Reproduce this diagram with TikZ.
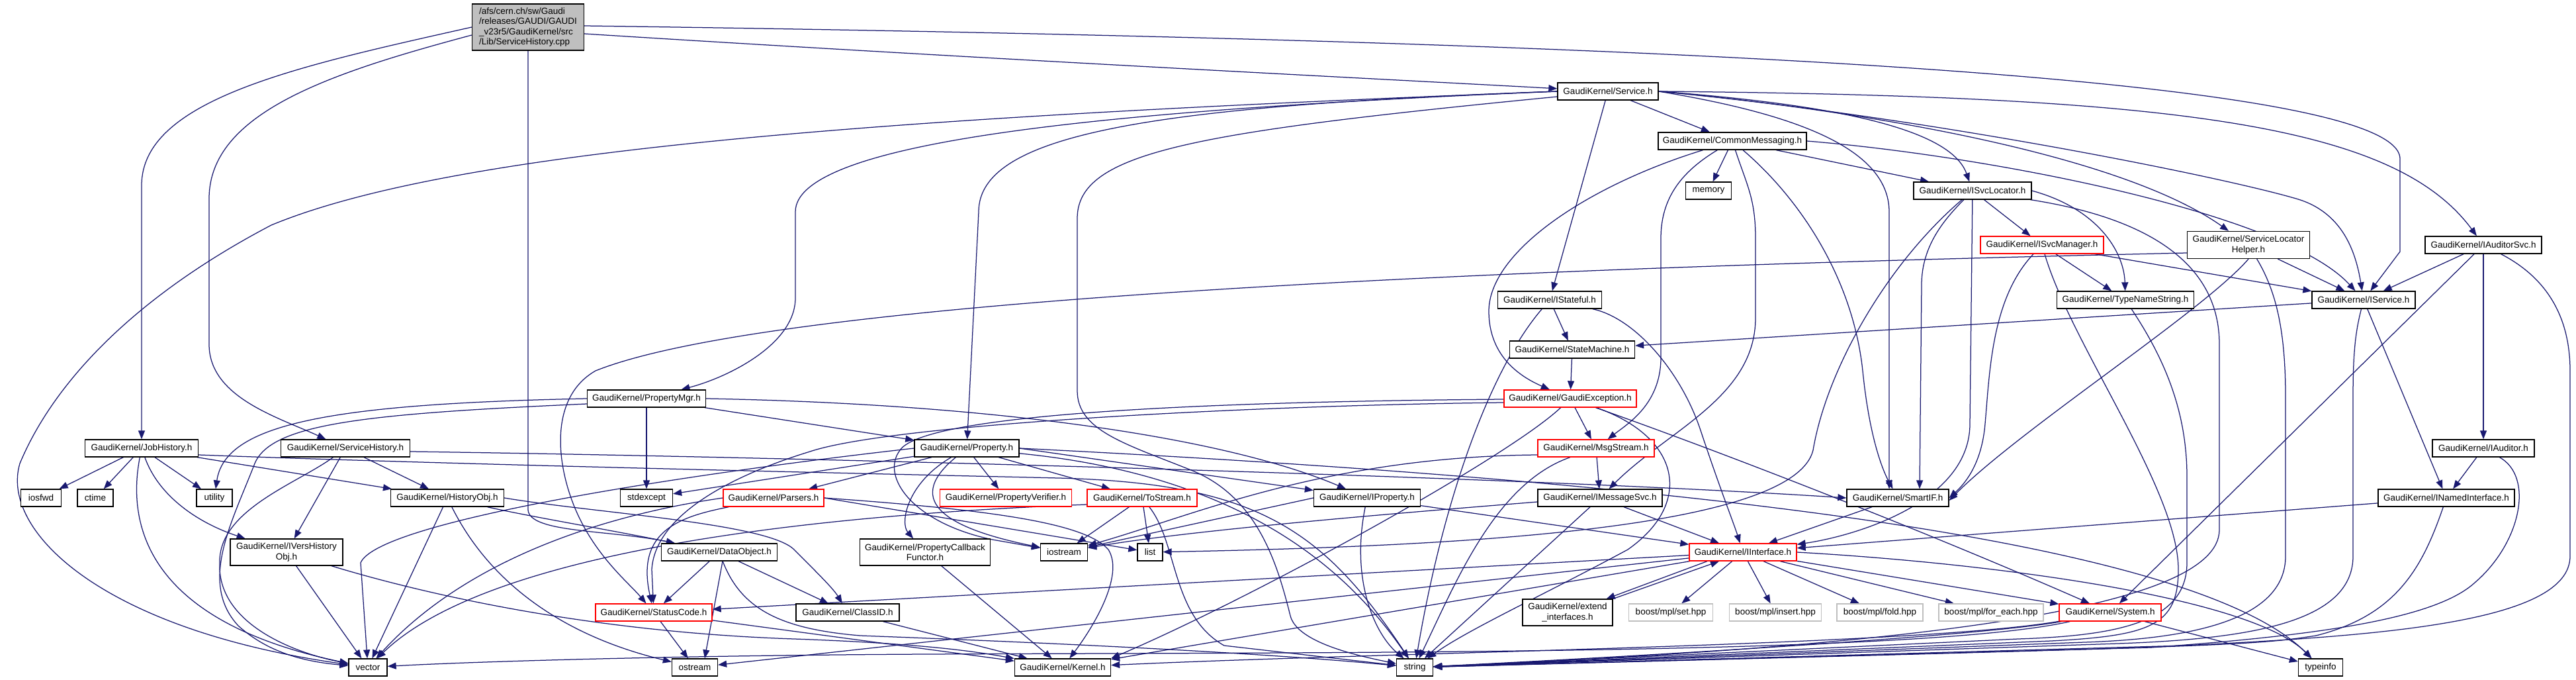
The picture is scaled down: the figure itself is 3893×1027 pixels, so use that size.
\documentclass[tikz,border=0pt]{standalone}
\usepackage{fontspec}
\setmainfont{Liberation Sans}
\usetikzlibrary{arrows.meta,backgrounds}
\definecolor{dxblue}{HTML}{191970}
\definecolor{dxgray}{HTML}{BFBFBF}
\begin{document}
\begin{tikzpicture}[x=1pt,y=-1pt,
  nd/.style={draw=black, line width=1.3pt, fill=white, minimum height=26, inner sep=1pt, font=\fontsize{13.5}{15.5}\selectfont, align=center},
  rnd/.style={nd, draw=red},
  gnd/.style={nd, draw=dxgray},
  conn/.style={draw=dxblue, line width=1.25pt, -{Triangle[length=13pt,width=10pt]}}]
\useasboundingbox (0,0) rectangle (3893,1027);
\begin{pgfonlayer}{background}
\fill[white] (0,0) rectangle (3893,1027);
\end{pgfonlayer}
% nodes
\node[nd, fill=dxgray, minimum width=169, minimum height=70, align=left] (root) at (798,41) {/afs/cern.ch/sw/Gaudi\\/releases/GAUDI/GAUDI\\\_v23r5/GaudiKernel/src\\/Lib/ServiceHistory.cpp};
\node[nd, minimum width=152] (svc) at (2430,138) {GaudiKernel/Service.h};
\node[nd, minimum width=224] (cm) at (2618,213) {GaudiKernel/CommonMessaging.h};
\node[nd, minimum width=69] (mem) at (2582,288) {memory};
\node[nd, minimum width=178] (isl) at (2981,288) {GaudiKernel/ISvcLocator.h};
\node[rnd, minimum width=186] (ism) at (3086,370) {GaudiKernel/ISvcManager.h};
\node[nd, minimum width=185, minimum height=41] (slh) at (3398,370) {GaudiKernel/ServiceLocator\\Helper.h};
\node[nd, minimum width=176] (ias) at (3753,370) {GaudiKernel/IAuditorSvc.h};
\node[nd, minimum width=207] (tns) at (3212,453) {GaudiKernel/TypeNameString.h};
\node[nd, minimum width=156] (isv) at (3572,453) {GaudiKernel/IService.h};
\node[nd, minimum width=154] (iaud) at (3753,677) {GaudiKernel/IAuditor.h};
\node[nd, minimum width=157] (ist) at (2342,453) {GaudiKernel/IStateful.h};
\node[nd, minimum width=189] (sm) at (2376,528) {GaudiKernel/StateMachine.h};
\node[rnd, minimum width=200] (gex) at (2373,602) {GaudiKernel/GaudiException.h};
\node[rnd, minimum width=176] (msg) at (2412,677) {GaudiKernel/MsgStream.h};
\node[nd, minimum width=171] (jh) at (214,677) {GaudiKernel/JobHistory.h};
\node[nd, minimum width=195] (sh) at (522,677) {GaudiKernel/ServiceHistory.h};
\node[nd, minimum width=179] (pm) at (977,602) {GaudiKernel/PropertyMgr.h};
\node[nd, minimum width=158] (prop) at (1461,677) {GaudiKernel/Property.h};
\node[nd, minimum width=61] (iosfwd) at (62,752) {iosfwd};
\node[nd, minimum width=54] (ctime) at (144,752) {ctime};
\node[nd, minimum width=54] (utility) at (324,752) {utility};
\node[nd, minimum width=171] (ho) at (676,752) {GaudiKernel/HistoryObj.h};
\node[nd, minimum width=79] (stdexc) at (977,752) {stdexcept};
\node[nd, minimum width=170, minimum height=40] (ivho) at (433,834) {GaudiKernel/IVersHistory\\Obj.h};
\node[nd, minimum width=58] (vector) at (556,1008) {vector};
\node[rnd, minimum width=176] (stc) at (988,925) {GaudiKernel/StatusCode.h};
\node[rnd, minimum width=152] (pars) at (1169,752) {GaudiKernel/Parsers.h};
\node[rnd, minimum width=199] (pv) at (1520,752) {GaudiKernel/PropertyVerifier.h};
\node[rnd, minimum width=166] (tos) at (1726,752) {GaudiKernel/ToStream.h};
\node[nd, minimum width=175] (dobj) at (1087,834) {GaudiKernel/DataObject.h};
\node[nd, minimum width=197, minimum height=40] (pcf) at (1398,834) {GaudiKernel/PropertyCallback\\Functor.h};
\node[nd, minimum width=71] (iostr) at (1608,834) {iostream};
\node[nd, minimum width=38] (list) at (1738,834) {list};
\node[nd, minimum width=156] (cid) at (1281,925) {GaudiKernel/ClassID.h};
\node[nd, minimum width=69] (ostr) at (1050,1008) {ostream};
\node[nd, minimum width=145] (kern) at (1606,1008) {GaudiKernel/Kernel.h};
\node[nd, minimum width=161] (iprop) at (2066,752) {GaudiKernel/IProperty.h};
\node[nd, minimum width=188] (imsg) at (2418,752) {GaudiKernel/IMessageSvc.h};
\node[nd, minimum width=154] (sif) at (2868,752) {GaudiKernel/SmartIF.h};
\node[rnd, minimum width=162] (iif) at (2634,834) {GaudiKernel/IInterface.h};
\node[nd, minimum width=136, minimum height=40] (ext) at (2369,925) {GaudiKernel/extend\\\_interfaces.h};
\node[gnd, minimum width=127] (bset) at (2525,925) {boost/mpl/set.hpp};
\node[gnd, minimum width=139] (bins) at (2683,925) {boost/mpl/insert.hpp};
\node[gnd, minimum width=130] (bfold) at (2841,925) {boost/mpl/fold.hpp};
\node[gnd, minimum width=158] (bfe) at (3009,925) {boost/mpl/for\_each.hpp};
\node[rnd, minimum width=154] (sys) at (3189,925) {GaudiKernel/System.h};
\node[nd, minimum width=55] (str) at (2138,1008) {string};
\node[nd, minimum width=67] (tinfo) at (3507,1008) {typeinfo};
\node[nd, minimum width=206] (ini) at (3697,752) {GaudiKernel/INamedInterface.h};
% edges
\begin{pgfonlayer}{background}
% root
\draw[conn] (root.west) .. controls (450,100) and (214,150) .. (214,280) -- (jh);
\draw[conn] ([yshift=-12pt]root.west) .. controls (500,110) and (316,170) .. (316,300) -- (316,520) .. controls (316,600) and (420,630) .. (sh);
\draw[conn] (root.south) -- (798,770) .. controls (800,805) and (920,800) .. (dobj);
\draw[conn] ([yshift=-10pt]root.east) .. controls (1500,90) and (2100,120) .. (svc);
\draw[conn] ([yshift=2pt]root.east) .. controls (2400,60) and (3627,110) .. (3627,240) -- (3627,380) -- (isv);
% Service.h
\draw[conn] (svc.west) .. controls (1400,175) and (700,220) .. (410,340) .. controls (200,450) and (80,580) .. (30,700) .. controls (0,800) and (150,950) .. (vector);
\draw[conn] (svc.west) .. controls (1700,165) and (1202,210) .. (1202,320) -- (1202,450) .. controls (1202,520) and (1100,570) .. (pm);
\draw[conn] (svc.west) .. controls (1750,160) and (1479,200) .. (1479,320) -- (prop);
\draw[conn] ([yshift=-8pt]svc.west) .. controls (1800,200) and (1628,230) .. (1628,330) -- (1628,590) .. controls (1628,650) and (1700,670) .. (1800,710) .. controls (1900,750) and (1930,850) .. (1950,930) .. controls (1960,970) and (2050,990) .. (str);
\draw[conn] (svc) -- (ist);
\draw[conn] (svc) -- (cm);
\draw[conn] (svc.east) .. controls (3300,145) and (3620,190) .. (ias);
\draw[conn] (svc.east) .. controls (2800,165) and (3200,230) .. (slh);
\draw[conn] (svc.east) .. controls (2900,175) and (3350,265) .. (3470,300) .. controls (3540,320) and (3560,380) .. (isv);
\draw[conn] (svc.east) .. controls (2700,170) and (2855,220) .. (2855,320) -- ([xshift=-13pt]sif.north);
\draw[conn] (svc.east) .. controls (2800,160) and (2950,200) .. (isl);
% CommonMessaging
\draw[conn] (cm) -- (mem);
\draw[conn] (cm) -- (isl);
\draw[conn] (cm.east) .. controls (3000,235) and (3450,320) .. (isv);
\draw[conn] (cm) .. controls (2400,280) and (2250,380) .. (2250,470) .. controls (2250,540) and (2300,570) .. (gex);
\draw[conn] (cm) .. controls (2540,260) and (2510,300) .. (2510,360) -- (2510,540) .. controls (2510,610) and (2460,640) .. (msg);
\draw[conn] (cm) .. controls (2640,280) and (2653,300) .. (2653,360) -- (2653,480) .. controls (2653,600) and (2520,650) .. (imsg);
\draw[conn] (cm) .. controls (2720,300) and (2800,420) .. (2815,560) .. controls (2825,660) and (2845,710) .. (sif);
% ISvcLocator
\draw[conn] (isl) -- (ism);
\draw[conn] (isl.east) .. controls (3170,315) and (3210,380) .. (tns);
\draw[conn] (isl) .. controls (3250,330) and (3354,400) .. (3354,520) -- (3354,800) .. controls (3354,920) and (2900,975) .. (str);
\draw[conn] (isl) -- (2977,640) .. controls (2977,760) and (2800,810) .. (iif);
\draw[conn] (isl) .. controls (2940,330) and (2904,370) .. (2904,430) -- ([xshift=33pt]sif.north);
\draw[conn] (isl) .. controls (2850,400) and (2760,560) .. (2740,680) .. controls (2710,800) and (2200,825) .. (list);
% ISvcManager
\draw[conn] (ism) -- (tns);
\draw[conn] (ism) -- (isv);
\draw[conn] (ism) .. controls (3010,450) and (3007,560) .. (3000,640) .. controls (2995,700) and (2970,730) .. (sif.east);
\draw[conn] (ism) .. controls (3130,520) and (3292,740) .. (3292,860) .. controls (3292,945) and (3250,960) .. (3100,968) -- (str);
% ServiceLocatorHelper
\draw[conn] (slh) -- (isv);
\draw[conn] (slh.south) .. controls (3330,470) and (3050,650) .. ([yshift=-4pt]sif.east);
\draw[conn] ([yshift=-12pt]slh.west) .. controls (2500,400) and (1200,440) .. (900,560) .. controls (830,600) and (840,700) .. (870,770) .. controls (900,840) and (950,880) .. (stc);
\draw[conn] (slh) .. controls (3440,440) and (3454,500) .. (3454,600) -- (3454,840) .. controls (3454,940) and (3300,965) .. (3150,970) -- (str);
% IAuditorSvc
\draw[conn] (ias) -- (isv);
\draw[conn] (ias) -- (iaud);
\draw[conn] (ias) -- (sys);
\draw[conn] (ias) .. controls (3850,420) and (3884,480) .. (3884,560) -- (3884,840) .. controls (3884,940) and (3600,960) .. (3300,975) -- (str);
% IService
\draw[conn] (isv) -- (sm);
\draw[conn] (isv) -- (ini);
\draw[conn] (isv) .. controls (3560,500) and (3556,530) .. (3556,600) -- (3556,840) .. controls (3556,940) and (3400,965) .. (3200,972) -- (str);
% IAuditor
\draw[conn] (iaud) -- (ini);
\draw[conn] (iaud) .. controls (3830,720) and (3810,820) .. (3740,880) .. controls (3680,935) and (3500,960) .. (3250,978) -- (str);
% INamedInterface
\draw[conn] (ini) -- (iif);
\draw[conn] (ini) .. controls (3660,860) and (3620,930) .. (3500,960) .. controls (3400,975) .. (str);
% TypeNameString
\draw[conn] (tns) .. controls (3270,540) and (3305,620) .. (3305,720) -- (3305,850) .. controls (3305,940) and (3200,960) .. (3050,965) -- (str);
% IStateful
\draw[conn] (ist) -- (sm);
\draw[conn] (ist) .. controls (2470,480) and (2540,560) .. (2570,650) .. controls (2600,740) and (2620,790) .. (iif);
\draw[conn] (ist) .. controls (2250,560) and (2180,760) .. (str);
% StateMachine
\draw[conn] (sm) -- (gex);
% GaudiException
\draw[conn] (gex) -- (msg);
\draw[conn] (gex) .. controls (2540,660) and (2560,760) .. (2460,830) .. controls (2330,900) and (2220,950) .. (str);
\draw[conn] (gex) .. controls (2650,700) and (2950,820) .. (sys);
\draw[conn] ([yshift=-6pt]gex.west) .. controls (1900,612) and (1350,640) .. (1224,682) .. controls (1100,720) and (990,780) .. (985,860) -- (stc);
\draw[conn] ([yshift=-1pt]gex.west) .. controls (1900,606) and (1400,620) .. (1360,680) .. controls (1330,720) and (1380,790) .. (1500,815) -- (iostr);
\draw[conn] (gex) .. controls (2280,690) and (1900,900) .. (kern.north east);
% MsgStream
\draw[conn] (msg) -- (imsg);
\draw[conn] (msg) .. controls (2260,730) and (2200,880) .. (str);
\draw[conn] ([yshift=-10pt]msg.west) .. controls (2000,690) and (1800,780) .. (iostr);
% IMessageSvc
\draw[conn] (imsg) -- (iif);
\draw[conn] (imsg) -- (str);
\draw[conn] ([yshift=-6pt]imsg.west) .. controls (2150,772) and (1800,800) .. (iostr);
% IProperty
\draw[conn] (iprop) -- (iif);
\draw[conn] (iprop) .. controls (2040,880) and (2080,960) .. (str);
\draw[conn] (iprop.west) -- (iostr);
% SmartIF
\draw[conn] (sif) -- (iif);
% IInterface
\draw[conn] ([xshift=-54pt]iif.south) -- ([xshift=-10pt]ext.north east);
\draw[conn] (ext.north east) -- ([xshift=-36pt]iif.south);
\draw[conn] (iif) -- (bset);
\draw[conn] (iif) -- (bins);
\draw[conn] (iif) -- (bfold);
\draw[conn] (iif) -- (bfe);
\draw[conn] (iif) -- (sys);
\draw[conn] (iif.east) .. controls (3000,850) and (3400,900) .. (tinfo);
\draw[conn] (iif) -- (stc);
\draw[conn] (iif) -- (kern);
\draw[conn] (iif) -- (ostr);
% System
\draw[conn] (sys) -- (tinfo);
\draw[conn] (sys) .. controls (3000,960) and (2500,990) .. (str);
\draw[conn] (sys) .. controls (2900,990) and (2000,985) .. (1400,988) .. controls (1000,990) and (700,1000) .. (vector);
\draw[conn] (sys) .. controls (2900,975) and (2100,985) .. (kern);
% Property.h
\draw[conn] (prop) -- (pv);
\draw[conn] (prop) -- (pars);
\draw[conn] (prop) -- (tos);
\draw[conn] (prop) -- (stdexc);
\draw[conn] (prop) .. controls (1370,730) and (1360,790) .. (pcf);
\draw[conn] (prop) .. controls (1360,760) and (1440,800) .. (iostr);
\draw[conn] (prop.east) -- (iprop);
\draw[conn] (prop.east) .. controls (2400,720) and (3300,800) .. (tinfo);
\draw[conn] (prop) .. controls (1900,720) and (2050,880) .. (str);
\draw[conn] (prop.west) .. controls (1000,720) and (570,790) .. (545,850) -- (vector);
% PropertyMgr
\draw[conn] (pm) -- (prop);
\draw[conn] (pm) -- (stdexc);
\draw[conn] (pm.west) .. controls (500,610) and (340,640) .. (utility);
\draw[conn] ([yshift=-8pt]pm.west) .. controls (550,625) and (410,640) .. (385,700) .. controls (350,790) and (300,880) .. (360,945) .. controls (410,990) and (470,1000) .. (vector);
\draw[conn] (pm.east) .. controls (1500,610) and (1850,660) .. (iprop);
% Parsers
\draw[conn] (pars) .. controls (1030,780) and (960,800) .. (stc);
\draw[conn] (pars.east) -- (list);
\draw[conn] (pars.west) .. controls (900,780) and (700,850) .. (vector);
\draw[conn] (pars.east) .. controls (1500,770) and (1640,790) .. (1675,830) .. controls (1700,870) and (1650,950) .. (kern);
% ToStream
\draw[conn] (tos) -- (iostr);
\draw[conn] (tos) -- (list);
\draw[conn] (tos) .. controls (1780,820) and (1770,930) .. (1850,975) -- (str);
\draw[conn] ([yshift=-10pt]tos.west) .. controls (1300,775) and (750,820) .. (vector);
% PropertyCallbackFunctor
\draw[conn] (pcf) -- (kern);
% DataObject
\draw[conn] (dobj) -- (stc);
\draw[conn] (dobj) -- (cid);
\draw[conn] ([xshift=5pt]dobj.south) -- ([xshift=15pt]ostr.north);
\draw[conn] (dobj) .. controls (1120,920) and (1180,950) .. (1300,960) .. controls (1700,975) and (1950,990) .. (str);
% ClassID, StatusCode
\draw[conn] (cid) -- (kern);
\draw[conn] (stc) -- (ostr);
\draw[conn] (stc) -- (kern);
% HistoryObj
\draw[conn] (ho) -- (vector);
\draw[conn] (ho) .. controls (740,880) and (850,960) .. (ostr);
\draw[conn] (ho) .. controls (800,780) and (920,800) .. (dobj);
\draw[conn] (ho.east) .. controls (900,775) and (1160,790) .. (1200,830) .. controls (1240,870) and (1260,890) .. (cid);
% IVersHistoryObj
\draw[conn] (ivho) -- (vector);
\draw[conn] (ivho) .. controls (650,900) and (900,955) .. (1200,965) .. controls (1400,972) and (1480,985) .. (kern);
% JobHistory
\draw[conn] (jh) -- (iosfwd);
\draw[conn] (jh) -- (ctime);
\draw[conn] (jh) -- (utility);
\draw[conn] (jh) .. controls (240,750) and (300,790) .. (ivho);
\draw[conn] (jh) -- (ho);
\draw[conn] (jh) .. controls (190,800) and (230,940) .. (vector);
\draw[conn] ([yshift=-10pt]jh.east) .. controls (700,702) and (1300,715) .. (1600,722) .. controls (1900,730) and (2000,800) .. (str);
% ServiceHistory
\draw[conn] (sh) -- (ho);
\draw[conn] (sh) -- (ivho);
\draw[conn] (sh) .. controls (450,730) and (330,770) .. (332,850) .. controls (328,940) and (440,985) .. (vector);
\draw[conn] ([yshift=-5pt]sh.east) .. controls (1200,690) and (2300,720) .. (sif.west);
\end{pgfonlayer}
\end{tikzpicture}
\end{document}
